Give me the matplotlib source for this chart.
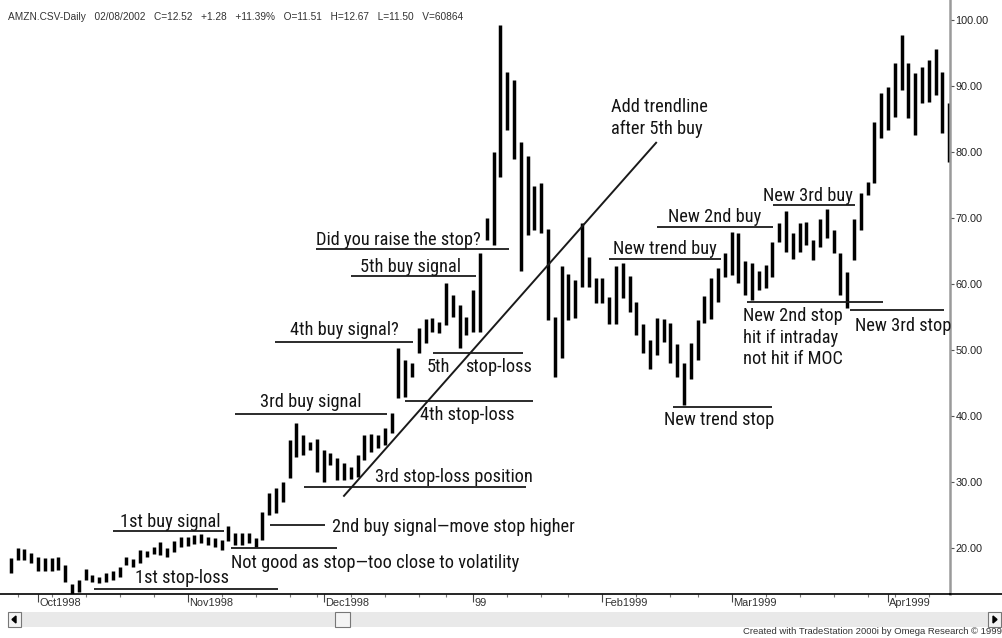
import matplotlib
matplotlib.use('Agg')
import matplotlib.pyplot as plt
import matplotlib.transforms as mtransforms
import pandas as pd
from matplotlib.patches import Rectangle, Polygon
from matplotlib.lines import Line2D

# daily highs / lows, 25 Sep 1998 .. 15 Apr 1999
highs = [18.5, 20.0, 19.8, 19.2, 18.6, 18.5, 18.5, 18.6, 17.4, 14.5,
         15.2, 16.8, 15.9, 15.6, 16.2, 16.5, 17.1, 18.6, 18.3, 19.7,
         19.5, 20.2, 20.9, 20.0, 21.1, 21.7, 21.7, 22.0, 22.1, 21.7,
         21.5, 21.2, 23.3, 22.3, 22.3, 22.3, 21.5, 25.5, 28.3, 29.1,
         30.0, 36.4, 38.9, 37.1, 36.1, 36.5, 34.8, 34.4, 33.6, 32.9,
         32.3, 34.1, 37.1, 37.3, 37.1, 38.2, 40.5, 50.3, 48.5, 48.0,
         53.3, 54.7, 54.8, 54.2, 60.2, 58.3, 56.8, 55.0, 59.1, 64.7,
         70.0, 80.0, 99.2, 92.1, 90.9, 81.5, 79.4, 74.8, 75.3, 68.3,
         55.0, 62.7, 61.5, 60.6, 69.2, 64.1, 60.9, 60.9, 58.0, 62.7,
         63.2, 61.2, 57.3, 53.9, 51.5, 54.8, 54.7, 54.1, 50.9, 48.0,
         51.1, 54.5, 58.2, 60.9, 62.4, 64.7, 67.9, 67.7, 63.5, 63.2,
         62.0, 62.9, 66.4, 69.2, 71.1, 67.7, 69.2, 69.4, 66.7, 69.8,
         71.4, 68.2, 64.7, 61.8, 69.8, 73.8, 75.5, 84.5, 88.9, 89.8,
         93.5, 97.7, 93.5, 92.0, 92.9, 93.9, 95.6, 92.1, 87.4]
lows = [16.2, 18.2, 18.2, 17.7, 16.5, 16.5, 16.5, 16.6, 14.8, 12.9,
        13.3, 15.2, 14.8, 14.7, 14.8, 15.2, 15.6, 17.4, 17.1, 17.7,
        18.6, 19.1, 18.9, 18.6, 19.4, 20.2, 20.3, 20.6, 20.8, 20.5,
        20.2, 19.7, 21.0, 20.5, 20.5, 20.8, 20.2, 21.2, 25.0, 25.3,
        27.0, 30.6, 33.8, 34.1, 34.8, 31.5, 30.0, 32.6, 30.3, 30.3,
        30.5, 30.8, 33.3, 34.5, 35.2, 35.6, 37.4, 42.7, 42.9, 45.9,
        49.5, 51.1, 52.7, 52.6, 53.8, 55.0, 50.3, 52.3, 52.7, 52.7,
        66.7, 65.9, 76.2, 83.3, 78.9, 62.0, 67.4, 68.2, 67.7, 54.5,
        45.9, 48.8, 54.5, 54.8, 59.5, 59.5, 57.1, 57.1, 53.9, 53.9,
        57.9, 55.8, 52.3, 49.5, 47.1, 49.2, 51.2, 48.0, 45.9, 41.7,
        45.6, 48.5, 54.1, 54.7, 57.3, 61.1, 61.4, 60.2, 58.3, 57.6,
        59.1, 59.4, 61.1, 66.4, 64.8, 63.8, 64.8, 65.9, 63.6, 65.6,
        67.0, 64.7, 58.3, 56.4, 63.6, 68.2, 73.5, 75.3, 82.1, 83.3,
        85.3, 89.4, 85.2, 82.6, 87.4, 87.6, 88.6, 82.9, 78.5]

start_date = '1998-09-25'
holidays = ['1998-11-26', '1998-12-25', '1999-01-01', '1999-01-18',
            '1999-02-15', '1999-04-02']
month_labels = ['Oct1998', 'Nov1998', 'Dec1998', '99', 'Feb1999', 'Mar1999', 'Apr1999']
price_ticks = [20, 30, 40, 50, 60, 70, 80, 90, 100]

header = ('AMZN.CSV-Daily   02/08/2002   C=12.52   +1.28   +11.39%   '
          'O=11.51   H=12.67   L=11.50   V=60864')

# stop / signal lines: (first bar, last bar, price)
level_lines = [(15.0, 31.4, 22.6), (12.2, 39.3, 13.8), (32.4, 48.0, 20.0),
               (38.1, 46.2, 23.5), (33.0, 55.3, 40.3), (43.1, 75.8, 29.2),
               (58.0, 76.8, 42.3), (38.9, 59.1, 51.2), (62.1, 75.3, 49.5),
               (50.0, 68.4, 61.2), (44.9, 73.3, 65.3), (88.0, 104.4, 63.8),
               (95.0, 112.1, 68.6), (112.1, 124.1, 72.0), (97.4, 111.9, 41.4),
               (108.3, 128.3, 57.3), (123.4, 137.2, 56.1)]
trend_x = [49.0, 94.9]
trend_y = [27.9, 81.4]

notes = [('1st buy signal', 16.1, 23.2),
         ('1st stop-loss', 18.3, 14.7),
         ('Not good as stop\u2014too close to volatility', 32.4, 17.0),
         ('2nd buy signal\u2014move stop higher', 47.2, 22.4),
         ('3rd buy signal', 36.6, 41.4),
         ('3rd stop-loss position', 53.6, 30.0),
         ('4th stop-loss', 60.2, 39.4),
         ('4th buy signal?', 41.1, 52.3),
         ('5th', 61.2, 46.7),
         ('stop-loss', 66.8, 46.7),
         ('5th buy signal', 51.4, 61.8),
         ('Did you raise the stop?', 44.9, 65.9),
         ('Add trendline', 88.3, 86.1),
         ('after 5th buy', 88.3, 82.7),
         ('New trend buy', 88.6, 64.5),
         ('New 2nd buy', 96.6, 69.4),
         ('New 3rd buy', 110.6, 72.6),
         ('New trend stop', 96.1, 38.6),
         ('New 2nd stop', 107.7, 54.4),
         ('hit if intraday', 107.7, 51.1),
         ('not hit if MOC', 107.7, 47.9),
         ('New 3rd stop', 124.1, 52.9)]

note_font = ['Liberation Sans Narrow', 'Roboto Condensed', 'DejaVu Sans']
small_font = ['Liberation Sans', 'DejaVu Sans']

W, H = 1003, 638
fig = plt.figure(figsize=(W / 100, H / 100), dpi=100)
fig.patch.set_facecolor('white')
ax = fig.add_axes([0, 44 / H, 950 / W, 594 / H])

dates = pd.bdate_range(start_date, periods=len(highs), freq='C', holidays=holidays)
xs = list(range(len(highs)))

ax.vlines(xs, lows, highs, color='black', lw=2.5)

for x0, x1, lvl in level_lines:
    ax.plot([x0, x1], [lvl, lvl], color='#1a1a1a', lw=1.3, solid_capstyle='butt')
ax.plot(trend_x, trend_y, color='#1a1a1a', lw=1.4)

for txt, x, y in notes:
    ax.text(x, y, txt, fontsize=13.2, family=note_font, color='#141414',
            ha='left', va='baseline')

ax.set_xlim(-1.59, 138.12)
ax.set_ylim(13.03, 103.03)

# axes frame
for s in ['left', 'top']:
    ax.spines[s].set_visible(False)
ax.spines['right'].set_color('#9a9a9a')
ax.spines['right'].set_linewidth(1.8)
ax.spines['bottom'].set_color('black')
ax.spines['bottom'].set_linewidth(1.2)

ax.yaxis.tick_right()
ax.set_yticks(price_ticks)
ax.set_yticklabels(['%.2f' % v for v in price_ticks], family=small_font)
ax.tick_params(axis='y', length=3, width=0.8, color='#555555', pad=1,
               labelsize=7.8, labelcolor='#222222')

# month ticks and weekly ticks
month_pos = [i for i in range(1, len(dates)) if dates[i].month != dates[i - 1].month]
week_pos = [i for i in range(1, len(dates)) if dates[i].weekday() < dates[i - 1].weekday()]
ax.set_xticks(month_pos)
ax.set_xticks([i for i in week_pos if i not in month_pos], minor=True)
ax.tick_params(axis='x', which='major', length=6, width=0.8, color='#444444',
               labelbottom=False)
ax.tick_params(axis='x', which='minor', length=2.5, width=0.8, color='#777777')

trans = mtransforms.blended_transform_factory(ax.transData, ax.transAxes)
for pos, lab in zip(month_pos, month_labels):
    ax.text(pos + 0.2, -0.007, lab, transform=trans, fontsize=7.9, family=small_font,
            color='#333333', ha='left', va='top')

fig.text(8 / W, 1 - 17 / H, header, fontsize=7.3, family=small_font,
         color='#333333', ha='left', va='center')

# extend bottom axis line across the price scale
fig.add_artist(Line2D([950 / W, 1], [44 / H, 44 / H], color='black', lw=1.2))

# scroll bar
def px_rect(x0, y0, x1, y1, **kw):
    return Rectangle((x0 / W, 1 - y1 / H), (x1 - x0) / W, (y1 - y0) / H,
                     transform=fig.transFigure, **kw)

fig.add_artist(px_rect(8, 612, 1001, 627, facecolor='#e9e9e9', edgecolor='none'))
for bx0, bx1 in [(8, 21), (335, 350), (988, 1001)]:
    fig.add_artist(px_rect(bx0, 612, bx1, 627, facecolor='#f4f4f4',
                           edgecolor='#777777', lw=0.8))
fig.add_artist(Polygon([(12 / W, 1 - 619.5 / H), (16 / W, 1 - 616 / H), (16 / W, 1 - 623 / H)],
                       closed=True, transform=fig.transFigure, color='black'))
fig.add_artist(Polygon([(997 / W, 1 - 619.5 / H), (993 / W, 1 - 616 / H), (993 / W, 1 - 623 / H)],
                       closed=True, transform=fig.transFigure, color='black'))

fig.text(1002 / W, 1 - 632 / H, 'Created with TradeStation 2000i by Omega Research \u00a9 1999',
         fontsize=6.8, family=small_font, color='#333333', ha='right', va='center')

fig.savefig('out.png', dpi=100)
